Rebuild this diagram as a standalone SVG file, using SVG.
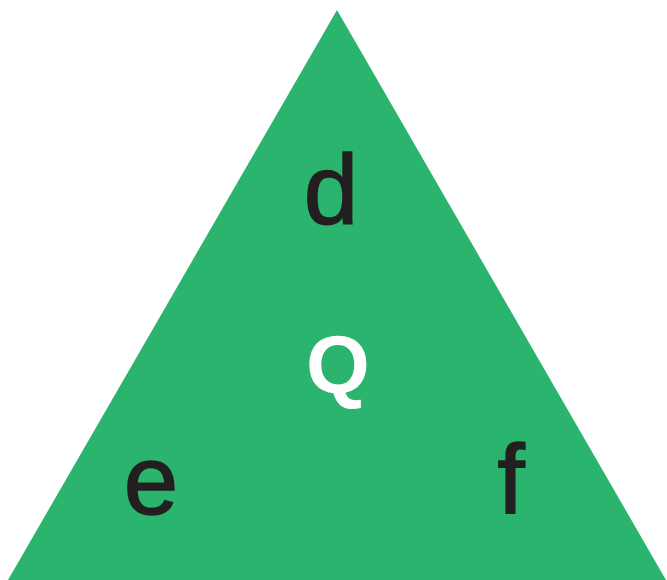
<svg xmlns="http://www.w3.org/2000/svg" width="667" height="580" viewBox="0 0 667 580">
<style>
.lbl{font-family:"Liberation Sans",Arial,sans-serif;font-size:98px;fill:#231f20;stroke:#231f20;stroke-width:1.5px;text-anchor:middle}
.q{font-family:"Liberation Sans",Arial,sans-serif;font-size:82px;font-weight:bold;fill:#ffffff;text-anchor:middle}
</style>
<g id="triangle">
<polygon points="337,10 8,580 666,580" fill="#2bb46e"/>
</g>
<g id="labels">
<text class="lbl" x="331" y="223">d</text>
<text class="q" x="338" y="393">Q</text>
<text class="lbl" x="151" y="514">e</text>
<text class="lbl" x="511" y="513">f</text>
</g>
</svg>
